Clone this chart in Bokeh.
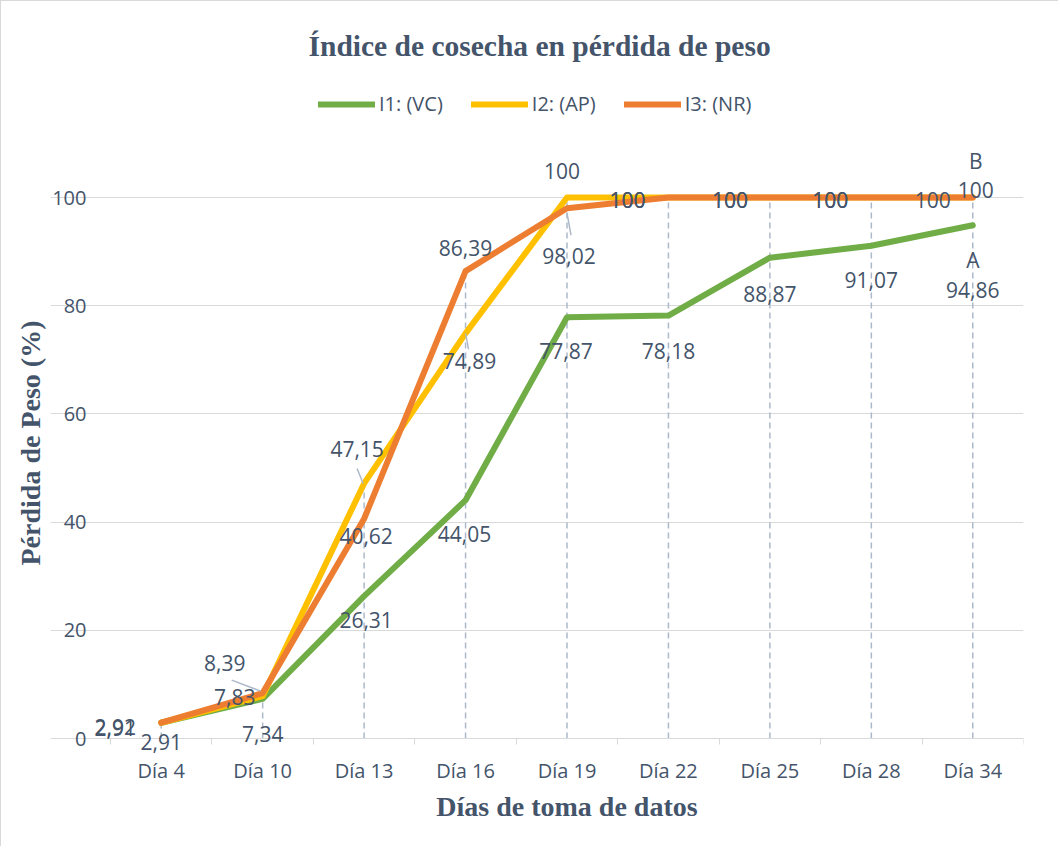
from bokeh.plotting import figure
from bokeh.models import (ColumnDataSource, Range1d, FixedTicker, Legend, LegendItem, Title, LabelSet)
from bokeh.core.properties import value
from bokeh.embed import file_html
from bokeh.resources import INLINE

# ---------------- data ----------------
categories = ["Día 4", "Día 10", "Día 13", "Día 16", "Día 19", "Día 22", "Día 25", "Día 28", "Día 34"]
i1_vc = [2.91, 7.34, 26.31, 44.05, 77.87, 78.18, 88.87, 91.07, 94.86]
i2_ap = [2.91, 7.83, 47.15, 74.89, 100, 100, 100, 100, 100]
i3_nr = [2.92, 8.39, 40.62, 86.39, 98.02, 100, 100, 100, 100]
series_names = ["I1: (VC)", "I2: (AP)", "I3: (NR)"]
y_ticks = [0, 20, 40, 60, 80, 100]
letters = {"I1: (VC)": "A", "I2: (AP)": "B"}

# ---------------- styles ----------------
colors = ["#70AD47", "#FFC000", "#ED7D31"]
TXT = "#44546A"
GRID = "#D9D9D9"
DROP = "#ADB9CA"
SANS = "Open Sans"
SERIF = "Liberation Serif"

# label offsets in screen px (dx, dy downwards)
offs = [
    [(0, 19), (0, 35), (2, 24), (-1, 34), (-1, 34), (0, 35), (0, 36), (0, 34), (0, 65)],
    [(-46, 5), (-28, 1), (-7, -34), (4, 28), (-5, -27), (-41, 2), (-40, 2), (-41, 2), (3, -8)],
    [(-46, 4), (-38, -30), (2, 17), (0, -23), (2, 48), (-41, 2), (-40, 2), (-41, 2), (-40, 2)],
]
letter_offs = {"I1: (VC)": (0, 35), "I2: (AP)": (3, -37)}

# layout (figure pixels): plot area where the axes sit, and a wider drawing frame
W, H = 1058, 846
AX_L, AX_R, AX_B, AX_T = 109, 1022, 737, 196   # x=0 / x=N / y=0 / y=100
FR_L, FR_T = 49, 74                             # frame left/top; frame reaches right=AX_R, bottom=H
N = len(categories)
PX_X = (AX_R - AX_L) / N
PX_Y = (AX_B - AX_T) / 100.0
x_start = -(AX_L - FR_L) / PX_X
y_end = (AX_B - FR_T) / PX_Y
y_start = -(H - AX_B) / PX_Y
xs = [i + 0.5 for i in range(N)]

p = figure(width=W, height=H, x_range=Range1d(x_start, N), y_range=Range1d(y_start, y_end),
           output_backend="svg", toolbar_location=None, title=None,
           min_border_left=FR_L, min_border_right=W - AX_R, min_border_top=FR_T, min_border_bottom=0)
p.outline_line_color = None
p.background_fill_color = "white"
p.border_fill_color = "white"
p.styles = {"border-left": "1px solid #D9D9D9", "border-top": "1px solid #D9D9D9"}

# x axis (pinned at y = 0)
xa = p.xaxis[0]
xa.fixed_location = 0
xa.bounds = (0, N)
xa.ticker = FixedTicker(ticks=xs, minor_ticks=list(range(N + 1)))
xa.major_label_overrides = {x: c for x, c in zip(xs, categories)}
xa.axis_line_color = GRID
xa.axis_line_width = 1
xa.major_tick_line_color = None
xa.major_tick_out = 0
xa.major_tick_in = 0
xa.minor_tick_line_color = GRID
xa.minor_tick_in = 0
xa.minor_tick_out = 6
xa.major_label_standoff = 12
xa.major_label_text_font = SANS
xa.major_label_text_font_size = "20px"
xa.major_label_text_color = TXT
xa.axis_label = "Días de toma de datos"
xa.axis_label_text_font = SERIF
xa.axis_label_text_font_style = "bold"
xa.axis_label_text_font_size = "28px"
xa.axis_label_text_color = TXT
xa.axis_label_standoff = 4

# y axis (pinned at x = 0)
ya = p.yaxis[0]
ya.fixed_location = 0
ya.ticker = FixedTicker(ticks=y_ticks)
ya.axis_line_color = None
ya.major_tick_line_color = None
ya.minor_tick_line_color = None
ya.major_tick_out = 0
ya.major_tick_in = 0
ya.major_label_standoff = 24
ya.major_label_text_font = SANS
ya.major_label_text_font_size = "20px"
ya.major_label_text_color = TXT

p.xgrid.visible = False
p.ygrid.ticker = FixedTicker(ticks=y_ticks)
p.ygrid.bounds = (0, N)
p.ygrid.grid_line_color = GRID
p.ygrid.grid_line_width = 1

all_series = [i1_vc, i2_ap, i3_nr]

# drop lines
tops = [max(v) for v in zip(*all_series)]
p.segment(x0=xs, y0=[0] * N, x1=xs, y1=tops, line_color=DROP, line_width=1.5, line_dash="6 4")

# series lines
renderers = []
for vals, col in zip(all_series, colors):
    r = p.line(xs, vals, line_color=col, line_width=6, line_cap="round", line_join="round")
    renderers.append(r)

# leader lines (series index, point index, start offset px, end offset px)
leaders = [(2, 1, (-31, -13), (-2, -2)), (1, 2, (-7, -15), (-1, 0)),
           (1, 3, (0, 0), (3, 16)), (2, 4, (0, 5), (4, 27))]
lx0, ly0, lx1, ly1 = [], [], [], []
for si, pi, a, b in leaders:
    v = all_series[si][pi]
    lx0.append(xs[pi] + a[0] / PX_X); ly0.append(v - a[1] / PX_Y)
    lx1.append(xs[pi] + b[0] / PX_X); ly1.append(v - b[1] / PX_Y)
p.segment(x0=lx0, y0=ly0, x1=lx1, y1=ly1, line_color=DROP, line_width=1.5)


def fmt(v):
    return str(int(v)) if float(v).is_integer() else f"{v:.2f}".replace(".", ",")


for name, vals, off in zip(series_names, all_series, offs):
    t = [fmt(v) for v in vals]
    dx = [o[0] for o in off]
    dy = [-o[1] for o in off]
    xx, yy = list(xs), list(vals)
    if name in letters:
        lo = letter_offs[name]
        xx.append(xs[-1]); yy.append(vals[-1]); t.append(letters[name])
        dx.append(lo[0]); dy.append(-lo[1])
    src = ColumnDataSource(dict(x=xx, y=yy, t=t, dx=dx, dy=dy))
    p.add_layout(LabelSet(x="x", y="y", text="t", x_offset="dx", y_offset="dy", source=src,
                          text_font=value(SANS), text_font_size="21px", text_color=TXT,
                          text_align="center", text_baseline="middle"))

legend = Legend(items=[LegendItem(label=n, renderers=[r]) for n, r in zip(series_names, renderers)],
                orientation="horizontal", location=(317 - FR_L, H - 116),
                label_text_font=SANS, label_text_font_size="20px", label_text_color=TXT,
                glyph_width=57, glyph_height=20, label_standoff=4, spacing=28,
                padding=0, margin=0, border_line_color=None, background_fill_alpha=0)
p.add_layout(legend, "center")

title = Title(text="Índice de cosecha en pérdida de peso", align="left", offset=307 - FR_L,
              text_font=SERIF, text_font_style="bold", text_font_size="29.5px",
              text_color=TXT, standoff=27)
p.add_layout(title, "above")

ytitle = Title(text="Pérdida de Peso (%)", align="left", offset=H - 564,
               text_font=SERIF, text_font_style="bold", text_font_size="28px",
               text_color=TXT, standoff=10)
p.add_layout(ytitle, "left")

open("out.html", "w").write(file_html(p, INLINE))
